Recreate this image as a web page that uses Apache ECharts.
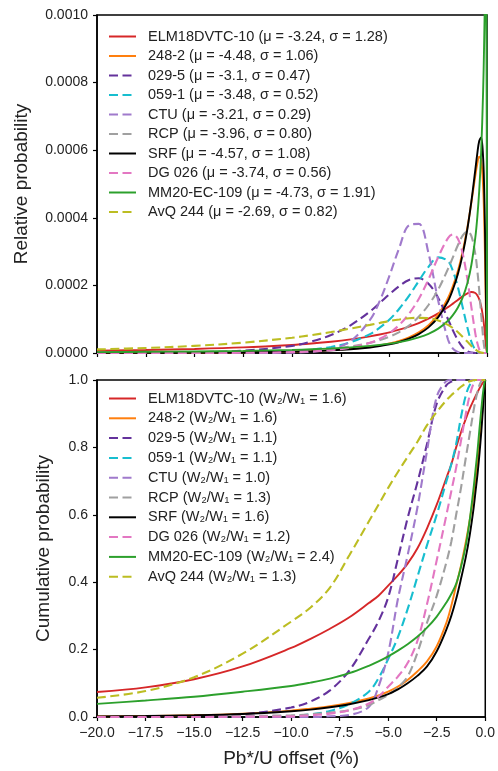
<!DOCTYPE html>
<html><head><meta charset="utf-8">
<script src="https://cdn.jsdelivr.net/npm/echarts@6/dist/echarts.min.js"></script>
<style>html,body{margin:0;padding:0;background:#fff}#c{width:498px;height:771px}</style>
</head><body><div id="c"></div>
<script>
// x positions (Pb*/U offset, %)
const offsets = [-20,-17.5,-15,-12.5,-10,-9,-8,-7,-6,-5.5,-5,-4.5,-4,-3.5,-3,-2.5,-2,-1.75,-1.5,-1.25,-1,-0.8,-0.6,-0.5,-0.4,-0.3,-0.2,-0.15,-0.1,-0.05,0];

const sampleNames = ['ELM18DVTC-10','248-2','029-5','059-1','CTU','RCP','SRF','DG 026','MM20-EC-109','AvQ 244'];
const muText    = ['-3.24','-4.48','-3.1','-3.48','-3.21','-3.96','-4.57','-3.74','-4.73','-2.69'];
const sigmaText = ['1.28','1.06','0.47','0.52','0.29','0.80','1.08','0.56','1.91','0.82'];
const ratioText = ['1.6','1.6','1.1','1.1','1.0','1.3','1.6','1.2','2.4','1.3'];

// relative probability, in units of 1e-4
const pdfELM  = [0.069,0.090,0.120,0.165,0.238,0.280,0.333,0.402,0.491,0.547,0.612,0.689,0.779,0.887,1.017,1.172,1.358,1.461,1.569,1.675,1.765,1.805,1.775,1.71,1.59,1.386,1.046,0.808,0.514,0.188,0];
const pdf248  = [0.005,0.008,0.013,0.023,0.046,0.062,0.086,0.123,0.182,0.225,0.283,0.359,0.464,0.61,0.823,1.14,1.63,1.98,2.42,3.00,3.74,4.46,5.24,5.59,5.81,5.72,4.93,4.07,2.73,0.99,0];
const pdf0295 = [0.003,0.008,0.022,0.067,0.21,0.34,0.53,0.82,1.23,1.48,1.74,1.98,2.16,2.21,2.05,1.63,1.0,0.67,0.39,0.17,0.05,0.013,0,0,0,0,0,0,0,0,0];
const pdf0591 = [0,0.0015,0.005,0.016,0.059,0.10,0.18,0.32,0.56,0.75,0.99,1.31,1.69,2.13,2.55,2.83,2.72,2.43,1.96,1.36,0.74,0.33,0.09,0.03,0.005,0,0,0,0,0,0];
const pdfCTU  = [0,0,0,0,0.011,0.036,0.116,0.35,0.98,1.54,2.29,3.11,3.78,3.82,2.95,1.54,0.40,0.13,0.03,0.005,0,0,0,0,0,0,0,0,0,0,0];
const pdfRCP  = [0.0033,0.006,0.012,0.025,0.058,0.084,0.125,0.19,0.30,0.38,0.48,0.62,0.81,1.07,1.42,1.88,2.49,2.83,3.18,3.47,3.60,3.46,2.93,2.46,1.86,1.15,0.47,0.21,0.06,0,0];
const pdfSRF  = [0.004,0.007,0.012,0.021,0.041,0.055,0.077,0.110,0.164,0.203,0.255,0.326,0.422,0.559,0.759,1.06,1.53,1.88,2.32,2.91,3.69,4.49,5.42,5.89,6.27,6.38,5.79,4.97,3.55,1.44,0];
const pdfDG   = [0,0.0005,0.002,0.007,0.027,0.047,0.085,0.16,0.30,0.42,0.59,0.83,1.16,1.60,2.18,2.84,3.40,3.51,3.39,2.95,2.16,1.35,0.58,0.30,0.11,0.03,0,0,0,0,0];
const pdfMM   = [0.027,0.035,0.046,0.064,0.093,0.111,0.134,0.166,0.210,0.240,0.277,0.323,0.382,0.46,0.567,0.720,0.953,1.12,1.34,1.64,2.08,2.61,3.41,4.00,4.79,5.94,7.72,9.06,10.9,13.5,0];
const pdfAvQ  = [0.106,0.149,0.211,0.307,0.452,0.53,0.62,0.723,0.832,0.89,0.946,0.992,1.03,1.04,1.03,0.964,0.833,0.738,0.619,0.48,0.33,0.21,0.106,0.064,0.032,0.012,0.003,0.001,0,0,0];

// cumulative probability
const cdfELM  = [0.074,0.088,0.112,0.15,0.205,0.232,0.262,0.296,0.338,0.36,0.39,0.42,0.455,0.50,0.56,0.63,0.71,0.75,0.80,0.845,0.885,0.915,0.94,0.952,0.963,0.975,0.985,0.99,0.994,0.998,1];
const cdf248  = [0.002,0.003,0.005,0.010,0.019,0.025,0.032,0.042,0.055,0.064,0.075,0.09,0.11,0.135,0.165,0.21,0.28,0.33,0.39,0.45,0.52,0.585,0.66,0.71,0.76,0.815,0.875,0.91,0.945,0.975,1];
const cdf0295 = [0,0.001,0.003,0.008,0.028,0.046,0.079,0.138,0.232,0.284,0.355,0.47,0.59,0.695,0.81,0.93,0.985,0.995,1,1,1,1,1,1,1,1,1,1,1,1,1];
const cdf0591 = [0,0,0,0,0.003,0.008,0.018,0.038,0.075,0.115,0.172,0.237,0.32,0.415,0.51,0.60,0.70,0.75,0.81,0.89,0.955,0.985,0.998,1,1,1,1,1,1,1,1];
const cdfCTU  = [0,0,0,0,0,0,0.002,0.006,0.03,0.09,0.19,0.35,0.48,0.62,0.79,0.95,0.997,1,1,1,1,1,1,1,1,1,1,1,1,1,1];
const cdfRCP  = [0,0.001,0.002,0.003,0.005,0.008,0.013,0.02,0.035,0.05,0.065,0.088,0.12,0.19,0.28,0.36,0.46,0.52,0.60,0.68,0.77,0.84,0.91,0.94,0.965,0.985,0.997,1,1,1,1];
const cdfSRF  = [0.002,0.003,0.005,0.009,0.017,0.022,0.029,0.038,0.05,0.058,0.068,0.082,0.10,0.122,0.15,0.195,0.26,0.30,0.35,0.41,0.475,0.54,0.62,0.67,0.72,0.78,0.85,0.89,0.93,0.97,1];
const cdfDG   = [0,0,0,0.001,0.002,0.005,0.01,0.02,0.04,0.06,0.09,0.12,0.16,0.225,0.335,0.465,0.60,0.67,0.74,0.82,0.90,0.955,0.99,1,1,1,1,1,1,1,1];
const cdfMM   = [0.039,0.049,0.060,0.075,0.092,0.102,0.114,0.13,0.152,0.165,0.18,0.197,0.216,0.238,0.265,0.298,0.34,0.365,0.395,0.445,0.51,0.585,0.68,0.735,0.79,0.855,0.915,0.945,0.97,0.99,1];
const cdfAvQ  = [0.057,0.077,0.118,0.188,0.283,0.325,0.384,0.48,0.58,0.63,0.68,0.727,0.772,0.816,0.866,0.905,0.94,0.955,0.967,0.98,0.99,0.996,0.999,1,1,1,1,1,1,1,1];

const pdfAll = [pdfELM,pdf248,pdf0295,pdf0591,pdfCTU,pdfRCP,pdfSRF,pdfDG,pdfMM,pdfAvQ];
const cdfAll = [cdfELM,cdf248,cdf0295,cdf0591,cdfCTU,cdfRCP,cdfSRF,cdfDG,cdfMM,cdfAvQ];
const colors = ['#d62728','#ff7f0e','#64329c','#17becf','#a07acc','#a0a0a0','#000000','#e377c2','#2ca02c','#bcbd22'];
const dashed = [false,false,true,true,true,true,false,true,false,true];

const FONT = 'Liberation Sans, Arial, sans-serif';
const topNames = sampleNames.map((n,i)=>`${n} (μ = ${muText[i]}, σ = ${sigmaText[i]})`);
const botNames = sampleNames.map((n,i)=>`${n} (W₂/W₁ = ${ratioText[i]})`);

function mkSeries(name, arr, i, axis, scale){
  return {
    type:'line', name, xAxisIndex:axis, yAxisIndex:axis,
    data: offsets.map((x,k)=>[x, arr[k]*scale]),
    symbol:'none', showSymbol:false, smooth:0.35, animation:false,
    lineStyle:{color:colors[i], width: dashed[i]?2.1:1.9, type: dashed[i]?[9,4.5]:'solid'},
    itemStyle:{color:colors[i]}
  };
}
const series = [];
pdfAll.forEach((a,i)=>series.push(mkSeries(topNames[i], a, i, 0, 1e-4)));
cdfAll.forEach((a,i)=>series.push(mkSeries(botNames[i], a, i, 1, 1)));

const axisCommon = {
  axisLine:{show:true, onZero:false, lineStyle:{color:'#000', width:1.5}},
  axisTick:{show:true, inside:false, length:4, lineStyle:{color:'#000', width:1.2}},
  splitLine:{show:false},
  axisLabel:{color:'#222', fontSize:14, fontFamily:FONT}
};
const minusFmt = v => (v<0?'\u2212':'') + Math.abs(v).toFixed(1);
const legendCommon = {orient:'vertical', left:108, padding:0, itemWidth:27, itemHeight:14,
  itemStyle:{opacity:0, borderWidth:0}, selectedMode:false,
  textStyle:{fontSize:14.5, lineHeight:14, color:'#222', fontFamily:FONT, padding:[0,0,0,7]}};
const titleStyle = {fontSize:19, color:'#222', fontFamily:FONT};

const option = {
  backgroundColor:'#fff',
  animation:false,
  grid:[
    {left:97, right:11, top:15, height:338, show:true, borderColor:'#000', borderWidth:1.5},
    {left:97, right:11, top:380, height:337, show:true, borderColor:'#000', borderWidth:1.5}
  ],
  xAxis:[
    Object.assign({}, axisCommon, {type:'value', gridIndex:0, min:-20, max:0, interval:2.5,
      axisLabel:{show:false}}),
    Object.assign({}, axisCommon, {type:'value', gridIndex:1, min:-20, max:0, interval:2.5,
      axisLabel:Object.assign({}, axisCommon.axisLabel, {margin:9, formatter:minusFmt}),
      name:'Pb*/U offset (%)', nameLocation:'middle', nameGap:32, nameTextStyle:titleStyle})
  ],
  yAxis:[
    Object.assign({}, axisCommon, {type:'value', gridIndex:0, min:0, max:0.001, interval:0.0002,
      axisLabel:Object.assign({}, axisCommon.axisLabel, {margin:9, formatter:v=>v.toFixed(4)}),
      name:'Relative probability', nameLocation:'middle', nameGap:66, nameTextStyle:titleStyle}),
    Object.assign({}, axisCommon, {type:'value', gridIndex:1, min:0, max:1, interval:0.2,
      axisLabel:Object.assign({}, axisCommon.axisLabel, {margin:9, formatter:v=>v.toFixed(1)}),
      name:'Cumulative probability', nameLocation:'middle', nameGap:44, nameTextStyle:titleStyle})
  ],
  legend:[
    Object.assign({}, legendCommon, {data:topNames, top:29, itemGap:4.5}),
    Object.assign({}, legendCommon, {data:botNames, top:391, itemGap:4.8})
  ],
  series
};
const chart = echarts.init(document.getElementById('c'), null, {renderer:'canvas'});
chart.setOption(option);
</script></body></html>
